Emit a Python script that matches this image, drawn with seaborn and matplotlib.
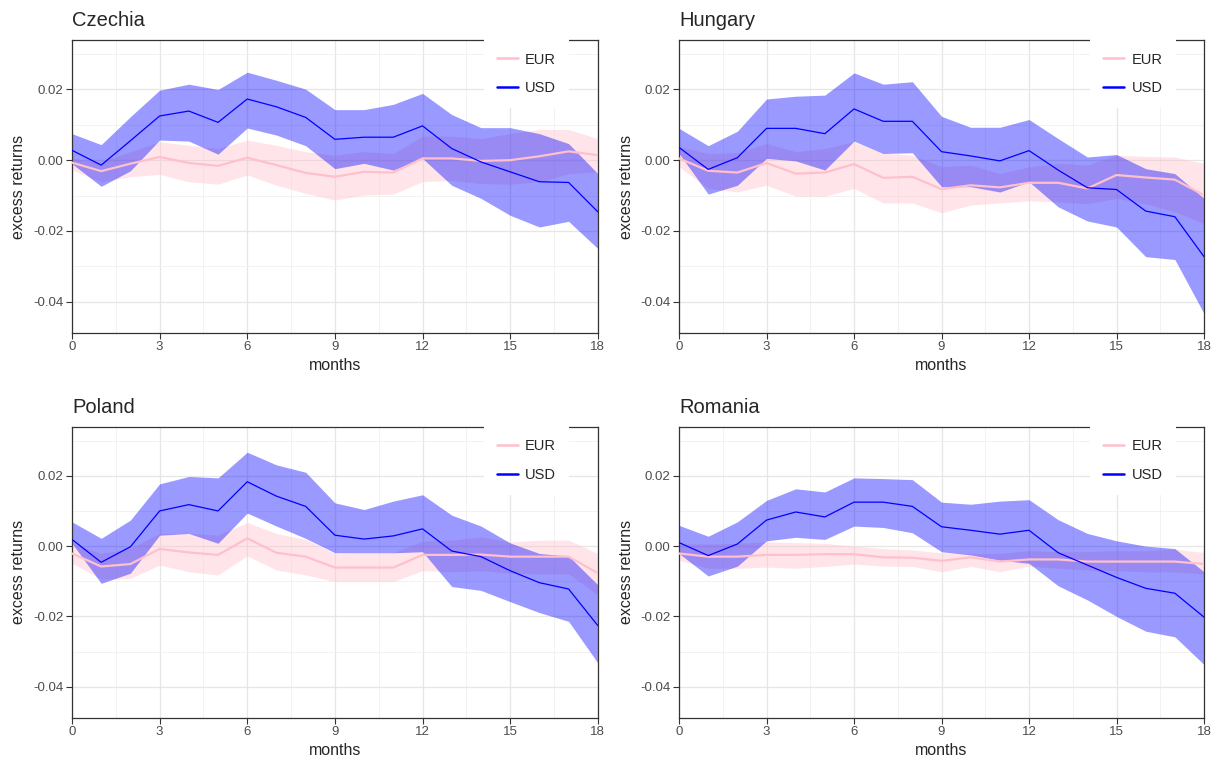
import numpy as np
import pandas as pd
import matplotlib
matplotlib.use('Agg')
import matplotlib.pyplot as plt
import seaborn as sns
from matplotlib.ticker import MultipleLocator

sns.set_theme(style='white')
plt.rcParams['font.family'] = ['Liberation Sans', 'DejaVu Sans']

months = list(range(19))
countries = ['Czechia', 'Hungary', 'Poland', 'Romania']

# Czechia
cz_usd = [0.0028, -0.0014, 0.0055, 0.0125, 0.0139, 0.0107, 0.0173, 0.0151, 0.0121, 0.0059,
          0.0065, 0.0065, 0.0097, 0.0033, -0.0005, -0.0033, -0.0061, -0.0063, -0.0146]
cz_usd_hi = [0.0075, 0.0044, 0.0123, 0.0198, 0.0215, 0.0200, 0.0249, 0.0226, 0.0201, 0.0143,
             0.0143, 0.0158, 0.0189, 0.0129, 0.0092, 0.0092, 0.0075, 0.0047, -0.0038]
cz_usd_lo = [-0.0010, -0.0074, -0.0030, 0.0057, 0.0054, 0.0017, 0.0091, 0.0071, 0.0041, -0.0024,
             -0.0009, -0.0028, 0.0005, -0.0071, -0.0108, -0.0156, -0.0189, -0.0173, -0.0250]
cz_eur = [-0.0007, -0.0031, -0.0010, 0.0009, -0.0008, -0.0016, 0.0007, -0.0014, -0.0036, -0.0047,
          -0.0033, -0.0035, 0.0005, 0.0005, -0.0002, 0.0000, 0.0011, 0.0025, 0.0014]
cz_eur_hi = [0.0005, -0.0005, 0.0024, 0.0052, 0.0042, 0.0033, 0.0057, 0.0042, 0.0024, 0.0014,
             0.0024, 0.0019, 0.0068, 0.0068, 0.0061, 0.0075, 0.0087, 0.0087, 0.0061]
cz_eur_lo = [-0.0028, -0.0061, -0.0047, -0.0040, -0.0061, -0.0068, -0.0042, -0.0071, -0.0094, -0.0113,
             -0.0099, -0.0096, -0.0061, -0.0057, -0.0066, -0.0068, -0.0061, -0.0038, -0.0033]

# Hungary
hu_usd = [0.0036, -0.0026, 0.0007, 0.0090, 0.0090, 0.0075, 0.0145, 0.0110, 0.0110, 0.0024,
          0.0012, -0.0002, 0.0027, -0.0028, -0.0078, -0.0083, -0.0144, -0.0160, -0.0273]
hu_usd_hi = [0.0090, 0.0041, 0.0082, 0.0173, 0.0181, 0.0184, 0.0247, 0.0215, 0.0222, 0.0124,
             0.0093, 0.0093, 0.0115, 0.0061, 0.0009, 0.0016, -0.0024, -0.0038, -0.0108]
hu_usd_lo = [0.0019, -0.0096, -0.0071, 0.0005, -0.0002, -0.0028, 0.0054, 0.0019, 0.0021, -0.0075,
             -0.0075, -0.0090, -0.0061, -0.0132, -0.0172, -0.0189, -0.0273, -0.0281, -0.0434]
hu_eur = [0.0005, -0.0030, -0.0035, -0.0008, -0.0038, -0.0035, -0.0011, -0.0050, -0.0047, -0.0082,
          -0.0071, -0.0077, -0.0064, -0.0064, -0.0080, -0.0042, -0.0049, -0.0055, -0.0099]
hu_eur_hi = [0.0038, 0.0019, 0.0021, 0.0047, 0.0024, 0.0033, 0.0052, 0.0021, 0.0014, -0.0019,
             -0.0014, -0.0038, -0.0019, -0.0009, -0.0014, 0.0014, 0.0011, 0.0009, -0.0009]
hu_eur_lo = [-0.0019, -0.0080, -0.0090, -0.0071, -0.0102, -0.0102, -0.0080, -0.0121, -0.0121, -0.0149,
             -0.0127, -0.0121, -0.0115, -0.0118, -0.0123, -0.0108, -0.0123, -0.0146, -0.0179]

# Poland
pl_usd = [0.0019, -0.0046, -0.0002, 0.0100, 0.0118, 0.0100, 0.0183, 0.0142, 0.0113, 0.0031,
          0.0020, 0.0029, 0.0049, -0.0014, -0.0030, -0.0070, -0.0104, -0.0122, -0.0226]
pl_usd_hi = [0.0069, 0.0022, 0.0074, 0.0177, 0.0198, 0.0194, 0.0267, 0.0231, 0.0210, 0.0123,
             0.0104, 0.0128, 0.0146, 0.0088, 0.0057, 0.0009, -0.0021, -0.0028, -0.0110]
pl_usd_lo = [0.0008, -0.0106, -0.0077, 0.0031, 0.0036, 0.0008, 0.0094, 0.0057, 0.0022, -0.0019,
             -0.0019, -0.0019, -0.0016, -0.0115, -0.0126, -0.0158, -0.0189, -0.0214, -0.0332]
pl_eur = [-0.0021, -0.0058, -0.0051, -0.0008, -0.0018, -0.0025, 0.0022, -0.0019, -0.0030, -0.0061,
          -0.0061, -0.0061, -0.0025, -0.0025, -0.0024, -0.0030, -0.0030, -0.0030, -0.0077]
pl_eur_hi = [0.0008, -0.0021, -0.0007, 0.0036, 0.0036, 0.0031, 0.0067, 0.0036, 0.0019, -0.0021,
             -0.0019, -0.0019, 0.0014, 0.0017, 0.0026, 0.0012, 0.0017, 0.0017, -0.0021]
pl_eur_lo = [-0.0049, -0.0094, -0.0092, -0.0054, -0.0073, -0.0082, -0.0028, -0.0068, -0.0082, -0.0101,
             -0.0101, -0.0101, -0.0070, -0.0073, -0.0070, -0.0077, -0.0079, -0.0079, -0.0139]

# Romania
ro_usd = [0.0010, -0.0027, 0.0006, 0.0074, 0.0097, 0.0083, 0.0125, 0.0125, 0.0113, 0.0055,
          0.0045, 0.0034, 0.0045, -0.0019, -0.0054, -0.0089, -0.0120, -0.0134, -0.0202]
ro_usd_hi = [0.0059, 0.0028, 0.0069, 0.0130, 0.0163, 0.0154, 0.0194, 0.0192, 0.0189, 0.0125,
             0.0119, 0.0128, 0.0132, 0.0075, 0.0036, 0.0015, 0.0000, -0.0007, -0.0073]
ro_usd_lo = [-0.0021, -0.0085, -0.0057, 0.0015, 0.0025, 0.0019, 0.0057, 0.0053, 0.0038, -0.0016,
             -0.0025, -0.0040, -0.0049, -0.0113, -0.0153, -0.0200, -0.0242, -0.0258, -0.0337]
ro_eur = [-0.0021, -0.0030, -0.0030, -0.0025, -0.0025, -0.0023, -0.0023, -0.0032, -0.0033, -0.0042,
          -0.0032, -0.0044, -0.0038, -0.0038, -0.0044, -0.0044, -0.0044, -0.0044, -0.0051]
ro_eur_hi = [0.0006, 0.0006, 0.0008, 0.0012, 0.0010, 0.0008, 0.0000, -0.0007, -0.0011, -0.0019,
             -0.0021, -0.0021, -0.0013, -0.0016, -0.0016, -0.0013, -0.0013, -0.0009, -0.0018]
ro_eur_lo = [-0.0040, -0.0063, -0.0063, -0.0060, -0.0063, -0.0058, -0.0051, -0.0057, -0.0058, -0.0073,
             -0.0058, -0.0073, -0.0057, -0.0063, -0.0068, -0.0070, -0.0073, -0.0073, -0.0079]

series = {
    'Czechia': (cz_eur, cz_eur_lo, cz_eur_hi, cz_usd, cz_usd_lo, cz_usd_hi),
    'Hungary': (hu_eur, hu_eur_lo, hu_eur_hi, hu_usd, hu_usd_lo, hu_usd_hi),
    'Poland': (pl_eur, pl_eur_lo, pl_eur_hi, pl_usd, pl_usd_lo, pl_usd_hi),
    'Romania': (ro_eur, ro_eur_lo, ro_eur_hi, ro_usd, ro_usd_lo, ro_usd_hi),
}

rows = []
for c in countries:
    e, elo, ehi, u, ulo, uhi = series[c]
    for i, m in enumerate(months):
        rows.append({'country': c, 'cur': 'EUR', 'month': m, 'ret': e[i], 'lo': elo[i], 'hi': ehi[i]})
        rows.append({'country': c, 'cur': 'USD', 'month': m, 'ret': u[i], 'lo': ulo[i], 'hi': uhi[i]})
df = pd.DataFrame(rows)

fig = plt.figure(figsize=(12.2, 7.65), dpi=100)
positions = [
    [0.059, 0.5647, 0.431, 0.383],
    [0.5566, 0.5647, 0.4303, 0.383],
    [0.059, 0.0614, 0.431, 0.381],
    [0.5566, 0.0614, 0.4303, 0.381],
]
colors = {'EUR': 'pink', 'USD': 'blue'}
widths = {'EUR': 1.6, 'USD': 0.9}

for c, pos in zip(countries, positions):
    ax = fig.add_axes(pos)
    sub = df[df['country'] == c]
    for cur in ['EUR', 'USD']:
        d = sub[sub['cur'] == cur]
        ax.fill_between(d['month'], d['lo'], d['hi'], color=colors[cur], alpha=0.4, lw=0, zorder=1)
    for cur in ['EUR', 'USD']:
        d = sub[sub['cur'] == cur]
        sns.lineplot(data=d, x='month', y='ret', color=colors[cur], lw=widths[cur],
                     label=cur, ax=ax, zorder=3)

    ax.set_xlim(0, 18)
    ax.set_ylim(-0.0489, 0.034)
    ax.xaxis.set_major_locator(MultipleLocator(3))
    ax.xaxis.set_minor_locator(MultipleLocator(1.5))
    ax.yaxis.set_major_locator(MultipleLocator(0.02))
    ax.yaxis.set_minor_locator(MultipleLocator(0.01))
    ax.set_yticks([-0.04, -0.02, 0.0, 0.02])
    ax.set_yticklabels(['-0.04', '-0.02', '0.00', '0.02'])
    ax.grid(which='major', color='#e6e6e6', lw=0.9, zorder=0)
    ax.grid(which='minor', color='#f0f0f0', lw=0.6, zorder=0)
    ax.set_axisbelow(True)
    ax.tick_params(which='major', direction='out', length=4, width=0.8, color='#333333',
                   labelsize=9.5, labelcolor='#4d4d4d', bottom=True, left=True, pad=2)
    ax.tick_params(which='minor', length=0)
    for s in ax.spines.values():
        s.set_color('#333333')
        s.set_linewidth(0.9)
    ax.set_xlabel('months', fontsize=11.5, labelpad=3)
    ax.set_ylabel('excess returns', fontsize=11.5, labelpad=5)
    ax.set_title(c, loc='left', fontsize=14.5, pad=10)

    leg = ax.legend(loc='upper left', bbox_to_anchor=(0.769, 1.027), frameon=True,
                    facecolor='white', edgecolor='none', framealpha=1, fancybox=False,
                    fontsize=10.5, handlelength=1.45, labelspacing=1.0, borderpad=0.9,
                    handletextpad=0.5)
    leg.set_zorder(10)
    for h in leg.get_lines():
        h.set_linewidth(1.8)

fig.savefig('out.png', dpi=100)
